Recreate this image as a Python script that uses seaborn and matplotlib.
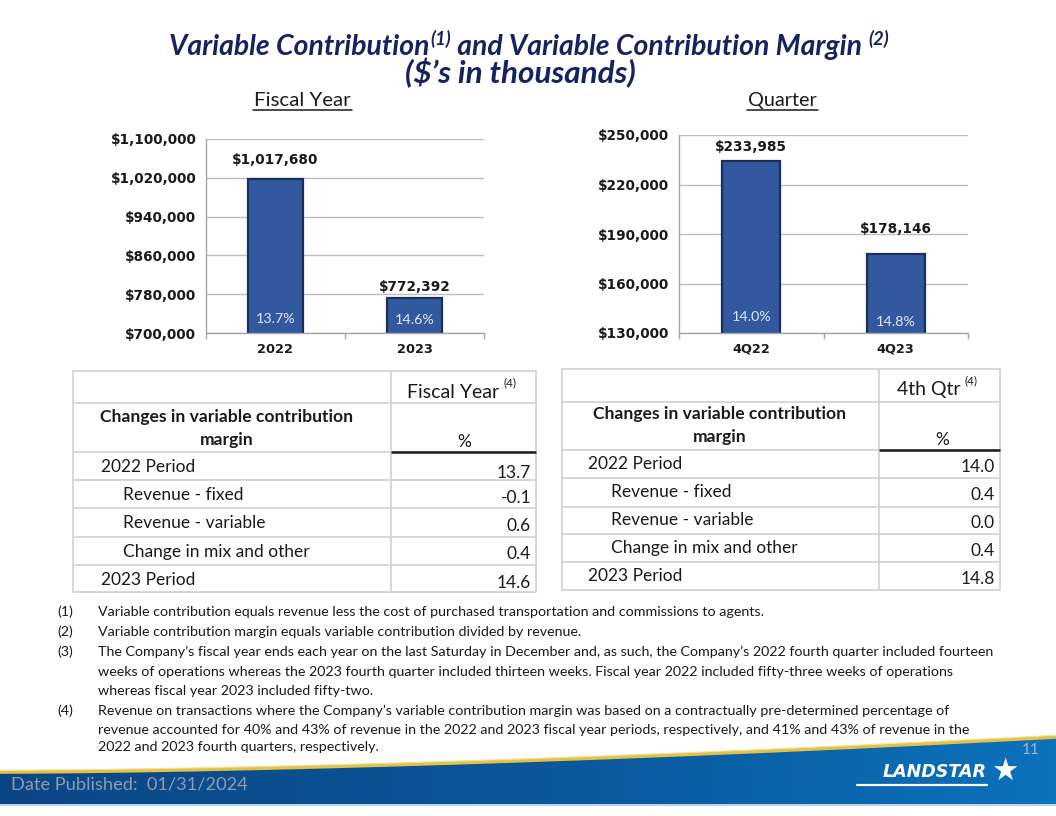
import numpy as np
import pandas as pd
import matplotlib
matplotlib.use("Agg")
import matplotlib.pyplot as plt
import seaborn as sns
from matplotlib.ticker import FuncFormatter, FixedLocator
from matplotlib.colors import LinearSegmentedColormap
import matplotlib.transforms as mtrans

# ---------------- data ----------------
fy_categories = ["2022", "2023"]
fy_contribution = [1017680, 772392]
fy_margin_pct = [13.7, 14.6]
fy_ticks = [700000, 780000, 860000, 940000, 1020000, 1100000]

q_categories = ["4Q22", "4Q23"]
q_contribution = [233985, 178146]
q_margin_pct = [14.0, 14.8]
q_ticks = [130000, 160000, 190000, 220000, 250000]

row_labels = ["2022 Period", "Revenue - fixed", "Revenue - variable",
              "Change in mix and other", "2023 Period"]
row_indented = [False, True, True, True, False]
fy_changes = [13.7, -0.1, 0.6, 0.4, 14.6]
q_changes = [14.0, 0.4, 0.0, 0.4, 14.8]

footnote_marks = ["(1)", "(2)", "(3)", "", "", "(4)", "", ""]
footnote_lines = [
    "Variable contribution equals revenue less the cost of purchased transportation and commissions to agents.",
    "Variable contribution margin equals variable contribution divided by revenue.",
    "The Company\u2019s fiscal year ends each year on the last Saturday in December and, as such, the Company\u2019s 2022 fourth quarter included fourteen",
    "weeks of operations whereas the 2023 fourth quarter included thirteen weeks. Fiscal year 2022 included fifty-three weeks of operations",
    "whereas fiscal year 2023 included fifty-two.",
    "Revenue on transactions where the Company\u2019s variable contribution margin was based on a contractually pre-determined percentage of",
    "revenue accounted for 40% and 43% of revenue in the 2022 and 2023 fiscal year periods, respectively, and 41% and 43% of revenue in the",
    "2022 and 2023 fourth quarters, respectively.",
]

# ---------------- style ----------------
sns.set_theme(style="white")
plt.rcParams["font.family"] = ["Lato", "DejaVu Sans"]

W, H = 1056, 816
fig = plt.figure(figsize=(W / 100, H / 100), dpi=100)
fig.patch.set_facecolor("white")
R = fig.canvas.get_renderer()

NAVY = "#172360"
BAR = "#3259A0"
BAR_EDGE = "#1B2E58"
GRID = "#BFBFBF"
TXT = "#1A1A1A"
TBL_FS = 12.5

# overlay axes in pixel coordinates
ov = fig.add_axes([0, 0, 1, 1], zorder=0)
ov.set_xlim(0, W)
ov.set_ylim(H, 0)
ov.axis("off")


def fit_size(t, target_w):
    w = t.get_window_extent(R).width
    t.set_fontsize(t.get_fontsize() * target_w / w)
    return t


def runs_text(xc, base_y, runs, target_w=None, **kw):
    """runs: (text, size, dy, gap)"""
    objs = []
    for s, rel, dy, gap in runs:
        objs.append(ov.text(0, base_y + dy, s, fontsize=rel, va="baseline", ha="left", **kw))
    if target_w is not None:
        tot = sum(o.get_window_extent(R).width for o in objs) + sum(r[3] for r in runs)
        k = target_w / tot
        for o in objs:
            o.set_fontsize(o.get_fontsize() * k)
    widths = [o.get_window_extent(R).width for o in objs]
    tot = sum(widths) + sum(r[3] for r in runs)
    x = xc - tot / 2
    for o, w, r in zip(objs, widths, runs):
        x += r[3]
        o.set_x(x)
        x += w
    return objs


# ---------------- title ----------------
runs_text(529, 55, [("Variable Contribution", 16, 0, 0),
                    ("(1)", 10.5, -10, 1),
                    (" and Variable Contribution Margin", 16, 0, 0),
                    ("(2)", 10.5, -10, 6)],
          target_w=722, color=NAVY, fontweight="bold", fontstyle="italic")
runs_text(520, 83, [("($\u2019s in thousands)", 16, 0, 0)], target_w=231,
          color=NAVY, fontweight="bold", fontstyle="italic")

for label, xc, tw in [("Fiscal Year", 302, 97), ("Quarter", 782, 69)]:
    t = ov.text(xc, 106, label, ha="center", va="baseline", fontsize=14, color=TXT)
    fit_size(t, tw)
    ov.plot([xc - tw / 2 - 1, xc + tw / 2 + 1], [110, 110], color=TXT, lw=1.1)


# ---------------- bar charts ----------------
def px_axes(left, top, right, bottom):
    return fig.add_axes([left / W, 1 - bottom / H, (right - left) / W, (bottom - top) / H], zorder=2)


def bar_chart(ax, cats, vals, pcts, ticks, label_off, pct_frac):
    df = pd.DataFrame({"cat": cats, "val": vals})
    sns.barplot(data=df, x="cat", y="val", ax=ax, color=BAR, width=0.4,
                edgecolor=BAR_EDGE, linewidth=1.6, saturation=1)
    ax.set_ylim(ticks[0], ticks[-1])
    ax.set_xlim(-0.5, len(cats) - 0.5)
    ax.yaxis.set_major_locator(FixedLocator(ticks))
    ax.yaxis.set_major_formatter(FuncFormatter(lambda v, p: f"${v:,.0f}"))
    ax.grid(axis="y", color=GRID, lw=1.0)
    ax.set_axisbelow(True)
    ax.set_facecolor("none")
    for s in ["top", "right"]:
        ax.spines[s].set_visible(False)
    for s in ["left", "bottom"]:
        ax.spines[s].set_color("#A6A6A6")
        ax.spines[s].set_linewidth(1.0)
    ax.set_xlabel("")
    ax.set_ylabel("")
    ax.xaxis.set_minor_locator(FixedLocator(np.arange(-0.5, len(cats), 1.0)))
    ax.tick_params(axis="x", which="major", length=0, pad=7)
    ax.tick_params(axis="x", which="minor", length=4, color="#A6A6A6", direction="out", bottom=True)
    ax.tick_params(axis="y", length=0, pad=7)
    for lab in ax.get_yticklabels():
        lab.set_fontfamily("DejaVu Sans")
        lab.set_fontweight("bold")
        lab.set_fontsize(9.8)
        lab.set_color(TXT)
    for lab in ax.get_xticklabels():
        lab.set_fontfamily("DejaVu Sans")
        lab.set_fontweight("bold")
        lab.set_fontsize(9.3)
        lab.set_color(TXT)
    tr = mtrans.blended_transform_factory(ax.transData, ax.transAxes)
    for i, (v, p) in enumerate(zip(vals, pcts)):
        ax.annotate(f"${v:,.0f}", (i, v), xytext=(0, label_off[i] * 0.72), textcoords="offset points",
                    ha="center", va="center", fontfamily="DejaVu Sans", fontweight="bold",
                    fontsize=9.8, color=TXT)
        ax.text(i, pct_frac[i], f"{p:.1f}%", transform=tr, ha="center", va="center",
                fontsize=10.3, color="#E3EAF6")


ax1 = px_axes(206, 139, 484, 333)
bar_chart(ax1, fy_categories, fy_contribution, fy_margin_pct, fy_ticks, [19, 11], [0.072, 0.067])
ax2 = px_axes(679, 135, 968, 333)
bar_chart(ax2, q_categories, q_contribution, q_margin_pct, q_ticks, [14, 25], [0.082, 0.058])


# ---------------- tables ----------------
def table(x0, x1, xdiv, rows_y, hdr, hdr_x, hdr_y, values, lab_x, ind_x, val_x, lab_y, val_y,
          chg_x, chg_y, pct_x, pct_y):
    gc = "#D4D4D4"
    for y in rows_y:
        ov.plot([x0, x1], [y, y], color=gc, lw=1.3, solid_capstyle="butt")
    ov.plot([x0, x0], [rows_y[0], rows_y[-1]], color=gc, lw=1.3)
    ov.plot([x1, x1], [rows_y[0], rows_y[-1]], color=gc, lw=1.3)
    ov.plot([xdiv, xdiv], [rows_y[0], rows_y[-1]], color=gc, lw=1.3)
    ov.plot([xdiv, x1], [rows_y[2], rows_y[2]], color="#1A1A1A", lw=1.8, solid_capstyle="butt")
    t = ov.text(hdr_x, hdr_y, hdr, ha="left", va="center", fontsize=14, color=TXT)
    w = t.get_window_extent(R).width
    ov.text(hdr_x + w + 4, hdr_y - 9, "(4)", ha="left", va="center", fontsize=8.5, color=TXT)
    t = ov.text(chg_x, chg_y, "Changes in variable contribution", ha="center", va="center",
                fontsize=TBL_FS, fontweight="bold", color=TXT)
    fit_size(t, 252)
    ov.text(chg_x, chg_y + 23, "margin", ha="center", va="center",
            fontsize=t.get_fontsize(), fontweight="bold", color=TXT)
    ov.text(pct_x, pct_y, "%", ha="center", va="center", fontsize=TBL_FS, color=TXT)
    for i, (lab, ind, v) in enumerate(zip(row_labels, row_indented, values)):
        ov.text(ind_x if ind else lab_x, lab_y[i], lab, ha="left", va="center",
                fontsize=TBL_FS, color=TXT)
        ov.text(val_x, val_y[i], f"{v:.1f}", ha="right", va="center", fontsize=TBL_FS, color=TXT)


table(73, 536, 391, [371, 403, 452, 480, 508, 537, 565, 592], "Fiscal Year", 407, 392,
      fy_changes, 101, 123, 531, [467, 495, 523, 552, 580], [473, 498, 526, 554, 583],
      227, 417, 464, 442)
table(562, 1000, 879, [369, 402, 450, 478, 507, 534, 562, 590], "4th Qtr", 897, 390,
      q_changes, 588, 611, 995, [464, 492, 520, 548, 576], [467, 495, 523, 551, 579],
      720, 414, 942, 440)

# ---------------- footnotes ----------------
fn_y = [612, 632, 652, 672, 691, 711, 730, 747]
probe = ov.text(0, -100, footnote_lines[2], fontsize=10, va="center")
fit_size(probe, 895)
fn_size = probe.get_fontsize()
probe.remove()
for m, line, y in zip(footnote_marks, footnote_lines, fn_y):
    if m:
        ov.text(57, y, m, ha="left", va="center", fontsize=fn_size, color=TXT)
    ov.text(98, y, line, ha="left", va="center", fontsize=fn_size, color=TXT)

# ---------------- footer band ----------------
xs = np.linspace(0, W, 200)
top_y = 772 - (772 - 737) * (xs / W) ** 1.6
band_poly = np.vstack([np.column_stack([xs, top_y]), [[W, 804], [0, 804]]])
poly = plt.Polygon(band_poly, closed=True, facecolor="none", edgecolor="none")
ov.add_patch(poly)
grad = np.linspace(0, 1, 256)[None, :]
cmap = LinearSegmentedColormap.from_list("band", ["#0C4684", "#0A5699", "#0B72BC"])
im = ov.imshow(grad, cmap=cmap, extent=[0, W, 804, 730], aspect="auto", zorder=1)
im.set_clip_path(poly)
ov.set_xlim(0, W)
ov.set_ylim(H, 0)
ov.plot(xs, top_y, color="#E4C247", lw=2.6, zorder=2)
ov.plot(xs, top_y - 1.8, color="#F3E3A0", lw=0.8, zorder=2)
ov.plot([0, W], [804.5, 804.5], color="#A9CBEA", lw=1.2, zorder=2)

t = ov.text(11, 784, "Date Published:  01/31/2024", ha="left", va="center",
            fontsize=14, color="#8E9BB0", zorder=3)
fit_size(t, 238)
ov.text(1040, 750, "11", ha="right", va="center", fontsize=11, color="#A7B6CC", zorder=3)
t = ov.text(883, 772, "LANDSTAR", ha="left", va="center", fontsize=12, color="white",
            fontfamily="DejaVu Sans", fontweight="bold", fontstyle="italic", zorder=3)
fit_size(t, 104)
ov.text(1005, 771, "\u2605", ha="center", va="center", fontsize=22, color="white",
        fontfamily="DejaVu Sans", zorder=3)
ov.plot([857, 987], [785, 785], color="white", lw=1.6, zorder=3)

fig.savefig("out.png", dpi=100, facecolor="white")
